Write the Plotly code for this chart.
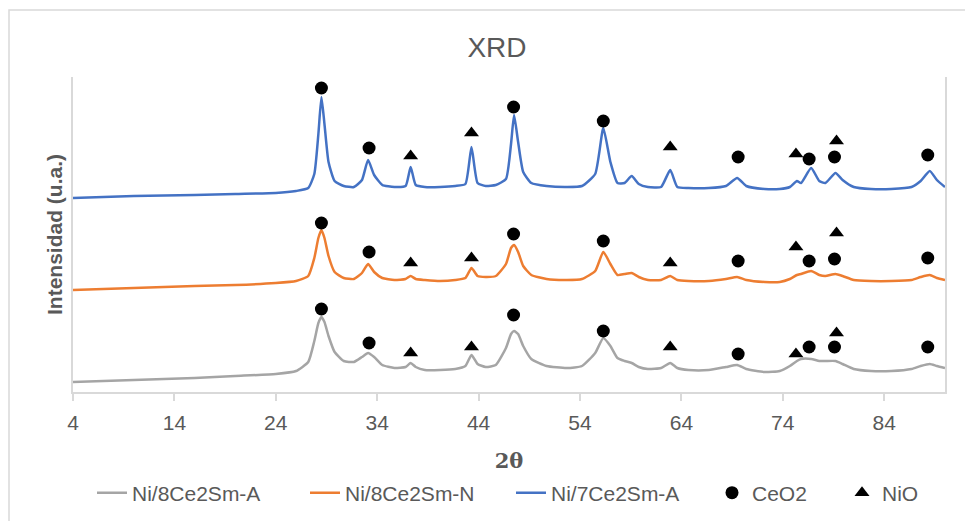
import plotly.graph_objects as go

# ---- data ----
two_theta = [4, 10, 16, 20, 24, 26, 27.2, 27.8, 28.2, 28.5, 28.8, 29.2, 29.8, 30.7, 31.7, 32.5,
             33.1, 33.7, 34.5, 35.7, 36.8, 37.3, 37.8, 38.7, 40.2, 41.7, 42.7, 43.3, 43.9, 44.7,
             45.7, 46.7, 47.2, 47.5, 47.9, 48.4, 49.2, 50.7, 52.7, 54.2, 55.5, 56.3, 57.0, 57.7,
             58.4, 59.1, 59.8, 60.7, 62.0, 62.9, 63.6, 64.7, 66.7, 68.4, 69.5, 70.4, 72.2, 73.7,
             74.7, 75.4, 75.8, 76.8, 77.6, 78.2, 79.2, 79.9, 81.0, 82.7, 84.7, 86.7, 87.6, 88.5,
             89.2, 90]

ni8_A = [4, 6, 8, 10, 12, 15, 24, 45, 63, 69, 64, 50, 34, 25, 24, 29,
         33, 29, 21, 18, 19, 23, 19, 16, 16, 17, 20, 31, 22, 19,
         21, 38, 52, 55, 52, 40, 27, 20, 18, 20, 33, 48, 40, 28,
         25, 23, 19, 17, 18, 23, 18, 16, 16, 19, 21, 17, 14, 15,
         20, 25, 27, 27, 25, 25, 25, 22, 17, 15, 15, 17, 20, 22,
         20, 18]

ni8_N = [96, 98, 100, 101, 103, 105, 110, 128, 148, 156, 148, 130, 114, 108, 107, 113,
         122, 114, 108, 106, 107, 110, 107, 106, 105, 106, 108, 118, 110, 109,
         110, 122, 138, 141, 134, 120, 111, 107, 106, 107, 115, 134, 122, 111,
         112, 113, 109, 106, 106, 110, 106, 105, 105, 107, 109, 106, 104, 104,
         107, 111, 112, 115, 111, 110, 112, 110, 106, 105, 105, 106, 109, 111,
         108, 106]

ni7_A = [188, 190, 191, 192, 193, 195, 198, 212, 252, 289, 262, 224, 205, 200, 199, 206,
         226, 211, 201, 199, 200, 219, 201, 199, 199, 200, 202, 239, 203, 200,
         201, 207, 242, 271, 244, 214, 203, 200, 199, 200, 212, 258, 224, 203,
         203, 210, 202, 199, 199, 216, 199, 198, 198, 200, 208, 200, 197, 197,
         199, 205, 203, 218, 205, 203, 213, 206, 199, 197, 197, 199, 205, 215,
         206, 199]

ceo2_x = [28.5, 33.2, 47.45, 56.3, 69.6, 76.6, 79.1, 88.3]
ceo2_y_A = [77, 43, 71, 55, 32, 39, 39, 39]
ceo2_y_N = [163, 134, 152, 145, 125, 125, 127, 128]
ceo2_y_7 = [298, 238, 279, 265, 229, 227, 229, 231]

nio_x = [37.3, 43.3, 62.9, 75.3, 79.3]
nio_y_A = [33, 39, 39, 32, 53]
nio_y_N = [123, 128, 123, 139, 153]
nio_y_7 = [230, 253, 239, 232, 245]

x_ticks = [4, 14, 24, 34, 44, 54, 64, 74, 84]

# ---- figure ----
TXT = "#595959"
GRID = "#D9D9D9"
FONT = "Liberation Sans, Arial, sans-serif"

fig = go.Figure()
fig.add_trace(go.Scatter(x=two_theta, y=ni8_A, mode="lines", name="Ni/8Ce2Sm-A",
                         line=dict(color="#A5A5A5", width=2.5, shape="spline", smoothing=0.5),
                         legend="legend"))
fig.add_trace(go.Scatter(x=two_theta, y=ni8_N, mode="lines", name="Ni/8Ce2Sm-N",
                         line=dict(color="#ED7D31", width=2.5, shape="spline", smoothing=0.5),
                         legend="legend2"))
fig.add_trace(go.Scatter(x=two_theta, y=ni7_A, mode="lines", name="Ni/7Ce2Sm-A",
                         line=dict(color="#4472C4", width=2.5, shape="spline", smoothing=0.5),
                         legend="legend3"))
fig.add_trace(go.Scatter(x=ceo2_x * 3, y=ceo2_y_A + ceo2_y_N + ceo2_y_7, mode="markers",
                         name="CeO2", marker=dict(symbol="circle", size=13, color="black"),
                         legend="legend4"))
fig.add_trace(go.Scatter(x=nio_x * 3, y=nio_y_A + nio_y_N + nio_y_7, mode="markers",
                         name="NiO", marker=dict(symbol="triangle-up", size=13, color="black"),
                         legend="legend5"))

# the page body has an 8px margin: work in window pixels, then shift
OFF = 8
W, H = 973 - OFF, 521 - OFF
PL, PR, PT, PB = 73, 945, 77, 392  # plot area in window pixels
L, R, T, B = PL - OFF, W - (PR - OFF), PT - OFF, H - (PB - OFF)
PW, PH = W - L - R, H - T - B


def px_x(px):
    return (px - PL) / PW


def px_y(py):
    return (PB - py) / PH


def leg(px, py):
    return dict(orientation="h", x=px_x(px), y=px_y(py), xanchor="left", yanchor="middle",
                font=dict(family=FONT, size=21, color=TXT), bgcolor="rgba(0,0,0,0)",
                borderwidth=0)


fig.update_layout(
    width=W, height=H,
    margin=dict(l=L, r=R, t=T, b=B, autoexpand=False),
    paper_bgcolor="white", plot_bgcolor="white",
    title=dict(text="XRD", x=(497 - OFF) / W, xanchor="center", y=1 - (47 - OFF) / H,
               yanchor="middle", font=dict(family=FONT, size=28, color=TXT)),
    showlegend=True,
    legend=leg(92, 493),
    legend2=leg(305, 493),
    legend3=leg(511, 493),
    legend4=leg(712, 493),
    legend5=leg(842, 493),
    xaxis=dict(range=[4, 90], tickvals=x_ticks, ticks="outside", ticklen=7, tickcolor=GRID,
               tickwidth=1.5, showline=True, linecolor=GRID, linewidth=1.5, showgrid=False,
               zeroline=False, tickfont=dict(family=FONT, size=21, color=TXT),
               ticklabelstandoff=4,
               title=dict(text="<b>2θ</b>", font=dict(family="DejaVu Serif", size=21, color=TXT),
                          standoff=20)),
    yaxis=dict(range=[-6, 309], showticklabels=False, ticks="", showgrid=False, zeroline=False,
               showline=True, linecolor=GRID, linewidth=1.5, mirror=True,
               title=dict(text="<b>Intensidad (u.a.)</b>",
                          font=dict(family=FONT, size=21, color=TXT), standoff=3)),
    shapes=[dict(type="rect", xref="paper", yref="paper",
                 x0=px_x(9), x1=px_x(1000), y0=px_y(540), y1=px_y(10),
                 line=dict(color=GRID, width=1.5), fillcolor="rgba(0,0,0,0)", layer="below")],
)

fig.write_html("out.html")
